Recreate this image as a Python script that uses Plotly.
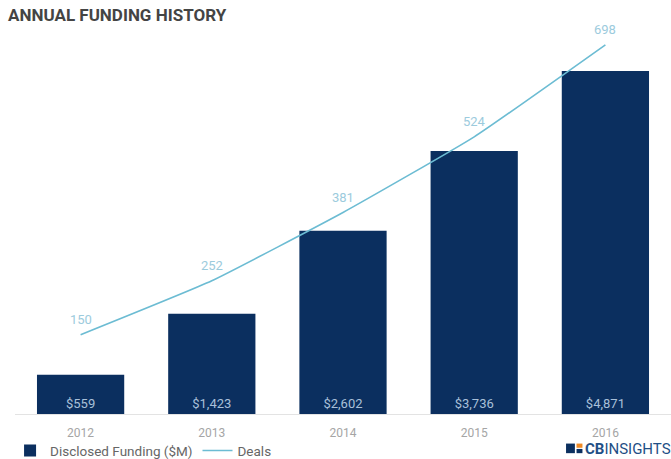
import plotly.graph_objects as go

years = ["2012", "2013", "2014", "2015", "2016"]
funding = [559, 1423, 2602, 3736, 4871]
funding_labels = ["$559", "$1,423", "$2,602", "$3,736", "$4,871"]
deals = [150, 252, 381, 524, 698]

NAVY = "#0b2f5f"
LINE = "#6cbcd3"

fig = go.Figure()
fig.add_trace(go.Bar(
    x=years, y=funding, name="Disclosed Funding ($M)",
    marker=dict(color=NAVY, line=dict(width=0)),
    text=funding_labels, textposition="inside", insidetextanchor="start",
    textfont=dict(color="#a9c0d9", size=13, family="Roboto"),
    cliponaxis=False,
))
fig.add_trace(go.Scatter(
    x=years, y=deals, name="Deals", yaxis="y2",
    mode="lines", line=dict(color=LINE, width=1.6, shape="spline", smoothing=0.4),
    cliponaxis=False,
))
# category index positions (category axes treat numeric-looking strings as indices)
for i, d in enumerate(deals):
    fig.add_annotation(x=i, y=d, xref="x", yref="y2", text=str(d), showarrow=False,
                       yshift=15, font=dict(color="#9ccbdd", size=13, family="Roboto"))

fig.update_layout(
    width=671, height=459,
    margin=dict(l=15, r=0, t=30, b=45, autoexpand=False),
    paper_bgcolor="white", plot_bgcolor="white",
    bargap=0.335,
    font=dict(family="Roboto", color="#888"),
    title=dict(text="<b>ANNUAL FUNDING HISTORY</b>", x=0.012, xanchor="left",
               y=0.967, yanchor="middle", xref="container", yref="container",
               font=dict(size=17, color="#444", family="Roboto")),
    xaxis=dict(type="category", showgrid=False, showline=True, linecolor="#e3e3e3", linewidth=1,
               tickfont=dict(size=12, color="#a5a5a5", family="Roboto"), ticks="",
               ticklabelstandoff=8),
    yaxis=dict(range=[0, 5455], visible=False),
    yaxis2=dict(range=[0, 726], overlaying="y", visible=False),
    legend=dict(orientation="h", x=0.015, y=0.018, xref="container", yref="container",
                xanchor="left", yanchor="middle", bgcolor="rgba(0,0,0,0)",
                font=dict(size=13.5, color="#666", family="Roboto"),
                itemwidth=30, tracegroupgap=0),
    showlegend=True,
)

# CB Insights logo
fig.add_shape(type="rect", xref="paper", yref="paper", x0=0.840, x1=0.8535, y0=-0.102, y1=-0.077,
              fillcolor=NAVY, line=dict(width=0))
fig.add_shape(type="rect", xref="paper", yref="paper", x0=0.856, x1=0.865, y0=-0.088, y1=-0.077,
              fillcolor="#f08a24", line=dict(width=0))
fig.add_shape(type="rect", xref="paper", yref="paper", x0=0.856, x1=0.865, y0=-0.102, y1=-0.091,
              fillcolor=NAVY, line=dict(width=0))
fig.add_annotation(text="<b>CB</b>INSIGHTS", xref="paper", yref="paper",
                   x=0.866, y=-0.09, xanchor="left", yanchor="middle", showarrow=False,
                   font=dict(size=15, color="#1f4f86", family="Roboto"))

fig.write_html("out.html")
